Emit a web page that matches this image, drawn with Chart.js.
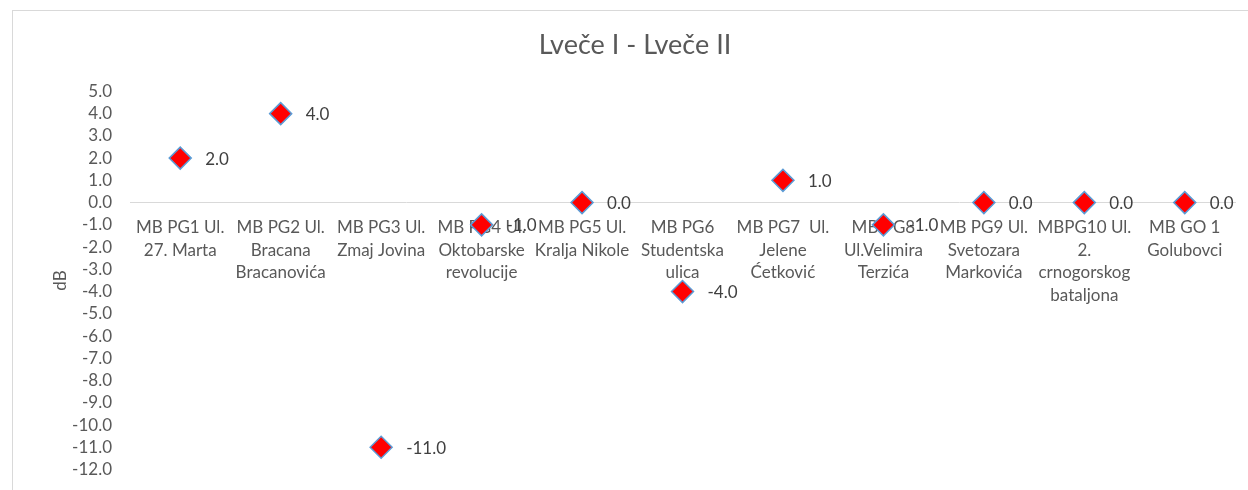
<!DOCTYPE html>
<html>
<head>
<meta charset="utf-8">
<script src="https://cdn.jsdelivr.net/npm/chart.js@4"></script>
<style>
  html, body { margin: 0; padding: 0; background: #fff; overflow: hidden; }
  .frame { position: absolute; left: 12px; top: 10px; width: 1260px; height: 500px; border: 1px solid #d9d9d9; }
  .wrap { position: absolute; left: 0; top: 0; width: 1270px; height: 496px; }
</style>
</head>
<body>
<div class="frame"></div>
<div class="wrap"><canvas id="chart"></canvas></div>
<script>
const categories = [
  ["MB PG1 Ul.", "27. Marta"],
  ["MB PG2 Ul.", "Bracana", "Bracanovića"],
  ["MB PG3 Ul.", "Zmaj Jovina"],
  ["MB PG4 Ul.", "Oktobarske", "revolucije"],
  ["MB PG5 Ul.", "Kralja Nikole"],
  ["MB PG6", "Studentska", "ulica"],
  ["MB PG7  Ul.", "Jelene", "Ćetković"],
  ["MB PG8", "Ul.Velimira", "Terzića"],
  ["MB PG9 Ul.", "Svetozara", "Markovića"],
  ["MBPG10 Ul.", "2.", "crnogorskog", "bataljona"],
  ["MB GO 1", "Golubovci"]
];
const differences = [2, 4, -11, -1, 0, -4, 1, -1, 0, 0, 0];
const yMin = -12;
const yMax = 5;

const fontFamily = "Lato, 'Open Sans', sans-serif";

// value labels to the right of each marker
const valueLabels = {
  id: "valueLabels",
  afterDatasetsDraw(chart) {
    const ctx = chart.ctx;
    const meta = chart.getDatasetMeta(0);
    ctx.save();
    ctx.font = "17px " + fontFamily;
    ctx.fillStyle = "#404040";
    ctx.textAlign = "left";
    ctx.textBaseline = "middle";
    meta.data.forEach((pt, i) => {
      ctx.fillText(differences[i].toFixed(1), pt.x + 25, pt.y + 1);
    });
    ctx.restore();
  }
};

const ctx = document.getElementById("chart").getContext("2d");
new Chart(ctx, {
  type: "line",
  data: {
    labels: categories,
    datasets: [{
      label: "Lveče I - Lveče II",
      data: differences,
      showLine: false,
      pointStyle: "rectRot",
      pointRadius: 11,
      pointHoverRadius: 11,
      pointBackgroundColor: "#ff0000",
      pointBorderColor: "#5b9bd5",
      pointBorderWidth: 1.5
    }]
  },
  options: {
    responsive: true,
    maintainAspectRatio: false,
    animation: false,
    layout: { padding: { left: 35, right: 35, top: 0, bottom: 10 } },
    plugins: {
      legend: { display: false },
      tooltip: { enabled: false },
      title: {
        display: true,
        text: "Lveče I - Lveče II",
        color: "#595959",
        font: { family: fontFamily, size: 27, weight: "normal" },
        padding: { top: 29, bottom: 30 }
      }
    },
    scales: {
      x: {
        position: { y: 0 },
        offset: true,
        grid: { display: false, drawTicks: false },
        border: { display: true, color: "#d9d9d9", width: 1 },
        ticks: {
          color: "#595959",
          font: { family: fontFamily, size: 17, lineHeight: 1.35 },
          padding: 13,
          maxRotation: 0,
          autoSkip: false
        }
      },
      y: {
        min: yMin,
        max: yMax,
        afterFit(scale) { scale.width = 95; },
        grid: { display: false, drawTicks: false },
        border: { display: false },
        title: {
          display: true,
          text: "dB",
          color: "#595959",
          font: { family: fontFamily, size: 17 },
          padding: { top: 15, bottom: 0 }
        },
        ticks: {
          stepSize: 1,
          autoSkip: false,
          color: "#595959",
          font: { family: fontFamily, size: 17, lineHeight: 1 },
          padding: 18,
          callback: v => v.toFixed(1)
        }
      }
    }
  },
  plugins: [valueLabels]
});
</script>
</body>
</html>
